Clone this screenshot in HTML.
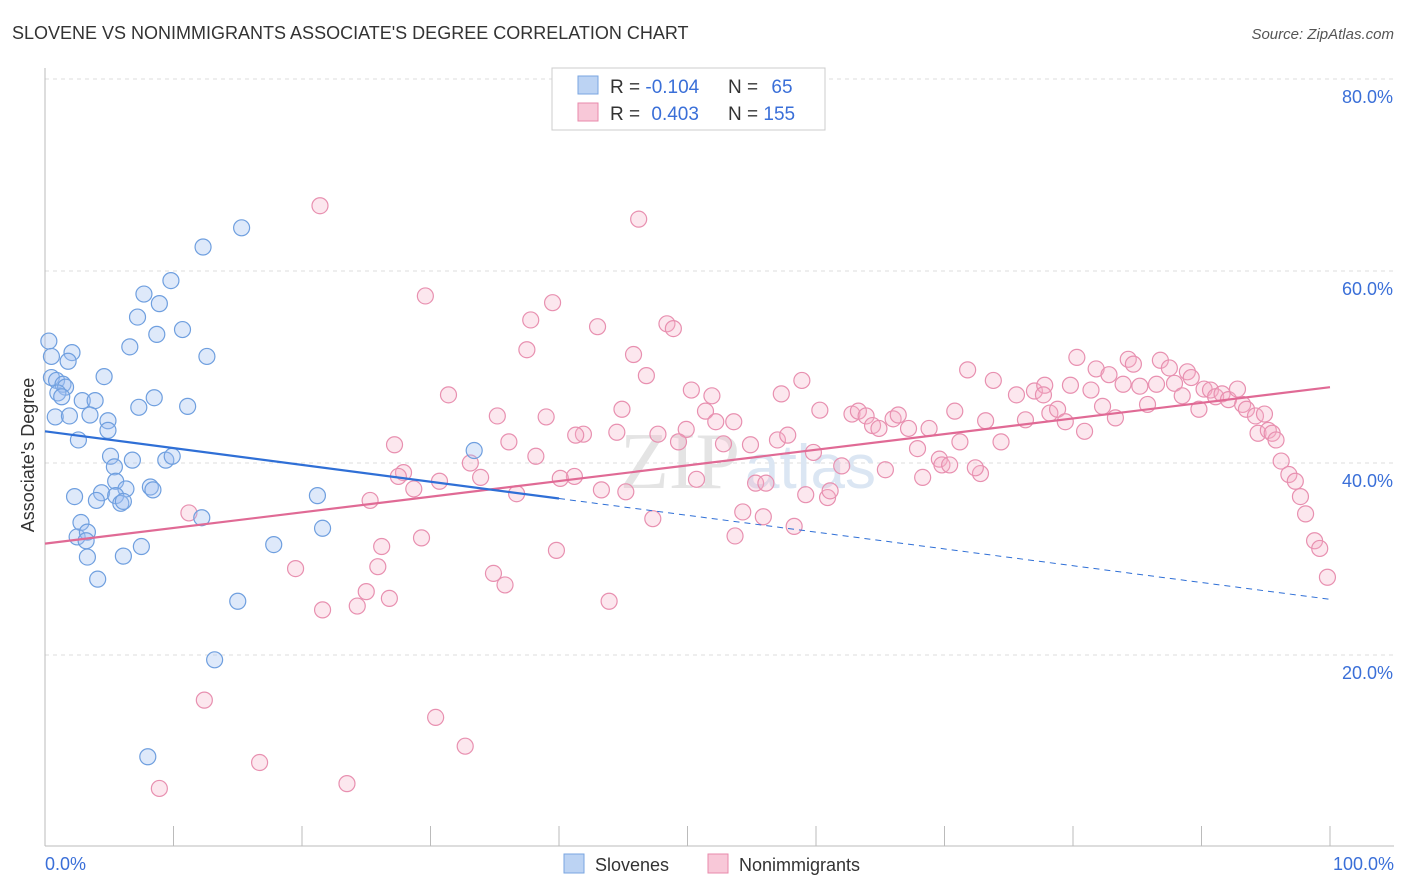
<!DOCTYPE html>
<html><head><meta charset="utf-8"><style>
body{margin:0;background:#fff;font-family:"Liberation Sans",sans-serif;}
svg{display:block}
</style></head><body>
<svg id="chart" width="1406" height="892">
<text x="12" y="39" font-size="18" fill="#333">SLOVENE VS NONIMMIGRANTS ASSOCIATE'S DEGREE CORRELATION CHART</text>
<text x="1394" y="39" font-size="15" fill="#555" font-style="italic" text-anchor="end">Source: ZipAtlas.com</text>
<g id="grid"></g>
<g id="axes"></g>
<text x="620" y="488" font-size="80" fill="#e4e4e4" font-family="Liberation Serif,serif">ZIP</text>
<text x="745" y="488" font-size="62" fill="#dbe6f3">atlas</text>
<g id="pink"></g>
<g id="blue"></g>
<g id="trend"></g>
<text transform="translate(34,455) rotate(-90)" font-size="18" fill="#333" text-anchor="middle">Associate's Degree</text>
<g>
<rect x="552" y="68" width="273" height="62" fill="#fff" stroke="#ccc"/>
<rect x="578" y="76" width="20" height="18" fill="#bcd3f3" stroke="#7aa6e0"/>
<rect x="578" y="103" width="20" height="18" fill="#f8c8d8" stroke="#e88aab"/>
<text x="610" y="93" font-size="19" fill="#333">R = <tspan fill="#3a6fd8">-0.104</tspan></text>
<text x="728" y="93" font-size="19" fill="#333">N = <tspan fill="#3a6fd8" dx="8">65</tspan></text>
<text x="610" y="120" font-size="19" fill="#333">R = <tspan fill="#3a6fd8" dx="6">0.403</tspan></text>
<text x="728" y="120" font-size="19" fill="#333">N = <tspan fill="#3a6fd8">155</tspan></text>
</g>
<g>
<rect x="564" y="854" width="20" height="19" fill="#bcd3f3" stroke="#7aa6e0"/>
<text x="595" y="871" font-size="18" fill="#333">Slovenes</text>
<rect x="708" y="854" width="20" height="19" fill="#f8c8d8" stroke="#e88aab"/>
<text x="739" y="871" font-size="18" fill="#333">Nonimmigrants</text>
</g>
</svg>
<script>
const blueX=[0.3,0.5,2.1,1.8,0.5,0.9,1.4,1.6,1.0,1.3,0.8,1.9,2.9,3.9,3.5,4.6,4.9,4.9,2.6,5.1,5.4,5.5,6.8,6.3,4.4,4.0,5.5,5.9,6.1,2.3,2.8,2.5,3.3,3.3,3.2,4.1,6.1,7.5,8.2,8.4,9.4,9.9,7.3,8.5,11.1,7.2,7.7,8.9,8.7,10.7,6.6,12.6,9.8,12.3,15.3,12.2,15.0,17.8,13.2,8.0,21.2,21.6,33.4];
const blueY=[52.7,51.1,51.5,50.6,48.9,48.6,48.2,47.9,47.3,46.9,44.8,44.9,46.5,46.5,45.0,49.0,44.4,43.4,42.4,40.7,39.6,38.1,40.3,37.3,36.9,36.1,36.6,35.8,36.0,36.5,33.8,32.3,32.8,30.2,31.9,27.9,30.3,31.3,37.5,37.2,40.3,40.7,45.8,46.8,45.9,55.2,57.6,56.6,53.4,53.9,52.1,51.1,59.0,62.5,64.5,34.3,25.6,31.5,19.5,9.4,36.6,33.2,41.3];
const pinkX=[21.4,46.2,29.6,39.5,37.8,43.0,48.4,48.9,37.5,45.8,46.8,31.4,35.2,39.0,44.9,50.3,51.9,51.4,52.2,53.6,49.9,47.7,49.3,44.5,41.9,41.3,36.1,38.2,33.1,33.9,30.7,27.9,28.7,27.2,36.7,41.2,43.3,45.2,47.3,50.7,52.8,54.9,57.0,57.8,57.3,58.9,60.3,59.8,62.0,55.3,56.1,59.2,60.9,61.1,54.3,55.9,53.7,58.3,62.8,63.3,63.9,64.4,64.9,66.0,66.4,67.2,67.9,68.8,69.6,69.8,70.4,68.3,65.4,70.8,71.8,71.2,73.2,73.8,74.4,75.6,76.3,77.0,77.8,77.7,78.2,78.8,79.4,79.8,80.3,80.9,81.4,81.8,82.3,82.8,83.3,83.9,84.3,84.7,85.2,85.8,86.5,86.8,87.5,87.9,88.5,88.9,89.2,89.8,90.2,90.7,91.1,91.6,92.1,92.8,93.2,93.5,94.2,94.9,94.4,95.2,95.5,95.8,96.2,96.8,97.3,97.7,98.1,98.8,99.2,99.8,72.8,72.4,11.2,19.5,21.6,24.3,25.0,26.2,26.8,25.9,29.3,34.9,35.8,39.8,43.9,30.4,32.7,12.4,16.7,8.9,23.5,25.3,27.5,40.1];
const pinkY=[66.8,65.4,57.4,56.7,54.9,54.2,54.5,54.0,51.8,51.3,49.1,47.1,44.9,44.8,45.6,47.6,47.0,45.4,44.3,44.3,43.5,43.0,42.2,43.2,43.0,42.9,42.2,40.7,40.0,38.5,38.1,39.0,37.3,41.9,36.8,38.6,37.2,37.0,34.2,38.3,42.0,41.9,42.4,42.9,47.2,48.6,45.5,41.1,39.7,37.9,37.9,36.7,36.4,37.1,34.9,34.4,32.4,33.4,45.1,45.4,44.9,43.9,43.6,44.6,45.0,43.6,41.5,43.6,40.4,39.8,39.8,38.5,39.3,45.4,49.7,42.2,44.4,48.6,42.2,47.1,44.5,47.5,48.1,47.1,45.2,45.6,44.3,48.1,51.0,43.3,47.6,49.8,45.9,49.2,44.7,48.2,50.8,50.3,48.0,46.1,48.2,50.7,49.9,48.3,47.0,49.5,48.9,45.6,47.7,47.6,46.9,47.2,46.6,47.7,46.1,45.6,44.9,45.1,43.1,43.4,43.1,42.4,40.2,38.8,38.1,36.5,34.7,31.9,31.1,28.1,38.9,39.5,34.8,29.0,24.7,25.1,26.6,31.3,25.9,29.2,32.2,28.5,27.3,30.9,25.6,13.5,10.5,15.3,8.8,6.1,6.6,36.1,38.6,38.4];
const yTicks=[20,40,60,80];
const yTickLabels=["20.0%","40.0%","60.0%","80.0%"];
const xTicks=[0,10,20,30,40,50,60,70,80,90,100];
const blueTrend=[43.3,-0.175];
const pinkTrend=[31.6,0.163];
const blueSolidEnd=40;

const NS="http://www.w3.org/2000/svg";
const sx=v=>45+v*12.85;
const sy=v=>847-v*9.6;
function mk(tag,attrs,parent){const e=document.createElementNS(NS,tag);for(const k in attrs)e.setAttribute(k,attrs[k]);parent.appendChild(e);return e;}
const grid=document.getElementById('grid'),axes=document.getElementById('axes');
yTicks.forEach((t,i)=>{
 const l=mk('line',{x1:45,x2:1394,y1:sy(t),y2:sy(t),stroke:'#ddd','stroke-dasharray':'4,4'},grid);
 
 
 const tx=mk('text',{x:1393,y:sy(t)+24,'font-size':18,fill:'#3a6fd8','text-anchor':'end'},axes);
 tx.textContent=yTickLabels[i];
 
 
});
const ax=mk('line',{x1:45,x2:1394,y1:846,y2:846,stroke:'#bbb'},axes);


const ay=mk('line',{x1:45,x2:45,y1:68,y2:846,stroke:'#bbb'},axes);


xTicks.forEach(t=>{
 const l=mk('line',{x1:sx(t),x2:sx(t),y1:826,y2:846,stroke:'#bbb'},axes);
 
 
});
const x0=mk('text',{x:45,y:870,'font-size':18,fill:'#3a6fd8'},axes);x0.textContent='0.0%';


const x1=mk('text',{x:1394,y:870,'font-size':18,fill:'#3a6fd8','text-anchor':'end'},axes);x1.textContent='100.0%';



const pg=document.getElementById('pink');
pinkX.forEach((x,i)=>{
 const c=mk('circle',{cx:sx(x),cy:sy(pinkY[i]),r:8,fill:'rgba(245,175,200,0.3)',stroke:'#e890b0','stroke-width':1.2},pg);
 
 
});
const bg=document.getElementById('blue');
blueX.forEach((x,i)=>{
 const c=mk('circle',{cx:sx(x),cy:sy(blueY[i]),r:8,fill:'rgba(160,192,240,0.35)',stroke:'#6f9fdf','stroke-width':1.2},bg);
 
 
});
const tg=document.getElementById('trend');
const bf=x=>blueTrend[0]+blueTrend[1]*x, pf=x=>pinkTrend[0]+pinkTrend[1]*x;
const p1=mk('line',{x1:sx(0),y1:sy(pf(0)),x2:sx(100),y2:sy(pf(100)),stroke:'#e06a95','stroke-width':2.2},tg);


const b1=mk('line',{x1:sx(0),y1:sy(bf(0)),x2:sx(blueSolidEnd),y2:sy(bf(blueSolidEnd)),stroke:'#2f6fd6','stroke-width':2.2},tg);


const b2=mk('line',{x1:sx(blueSolidEnd),y1:sy(bf(blueSolidEnd)),x2:sx(100),y2:sy(bf(100)),stroke:'#2f6fd6','stroke-width':1,'stroke-dasharray':'6,5'},tg);


</script>
</body></html>
